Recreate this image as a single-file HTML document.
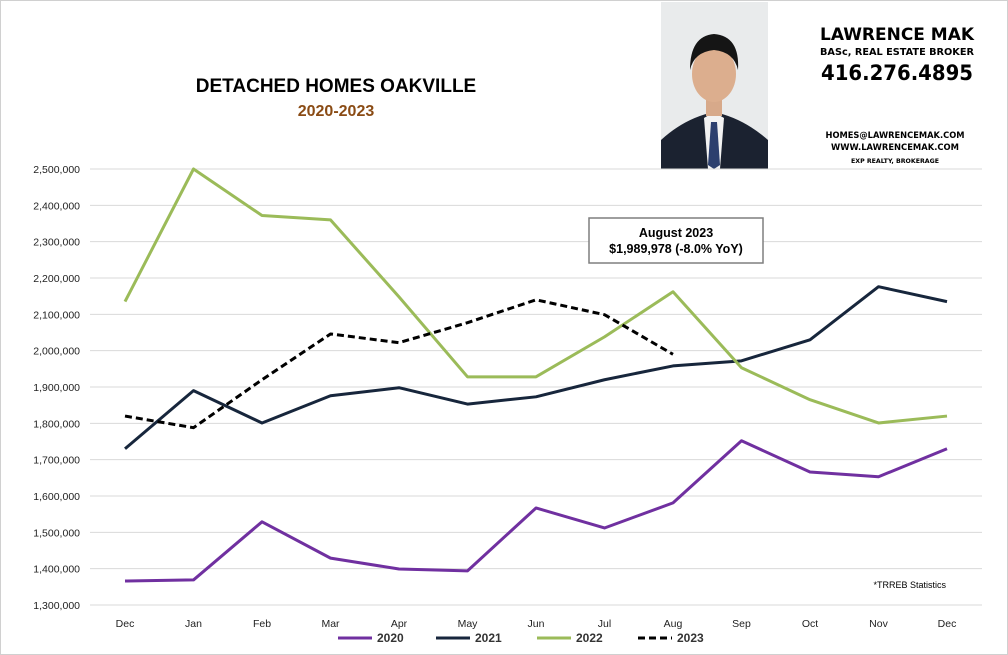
<!DOCTYPE html>
<html><head><meta charset="utf-8"><style>
body{margin:0;background:#fff;}
svg{display:block;font-family:"Liberation Sans",sans-serif;}
</style></head><body>
<svg width="1008" height="655" viewBox="0 0 1008 655">
<rect x="0.5" y="0.5" width="1007" height="654" fill="#fff" stroke="#d0d0d0"/>
<text x="336" y="92" text-anchor="middle" font-size="19" font-weight="bold" fill="#000">DETACHED HOMES OAKVILLE</text>
<text x="336" y="116" text-anchor="middle" font-size="16" font-weight="bold" fill="#8a4b14">2020-2023</text>
<g>
<rect x="661" y="2" width="107" height="167" fill="#e9ebec"/>
<path d="M661 169 L661 140 Q685 118 714 112 Q743 118 768 140 L768 169 Z" fill="#1b2230"/>
<path d="M704 118 L714 112 L724 118 L720 169 L708 169 Z" fill="#f2f2f2"/>
<path d="M711 122 L717 122 L720 165 L714 169 L708 165 Z" fill="#2c3f6e"/>
<rect x="706" y="92" width="16" height="24" fill="#d7a98a"/>
<ellipse cx="714" cy="74" rx="22" ry="28" fill="#dcae8e"/>
<path d="M690 70 Q690 36 714 34 Q740 36 738 70 Q734 52 714 50 Q694 52 690 70 Z" fill="#151515"/>
</g>
<g fill="#000" font-weight="bold" text-anchor="middle" font-family="'DejaVu Sans',sans-serif">
<text x="897" y="40" font-size="17" textLength="154" lengthAdjust="spacingAndGlyphs">LAWRENCE MAK</text>
<text x="897" y="55" font-size="10" textLength="154" lengthAdjust="spacingAndGlyphs">BASc, REAL ESTATE BROKER</text>
<text x="897" y="80" font-size="21" textLength="152" lengthAdjust="spacingAndGlyphs">416.276.4895</text>
<text x="895" y="138" font-size="8.5" textLength="139" lengthAdjust="spacingAndGlyphs">HOMES@LAWRENCEMAK.COM</text>
<text x="895" y="150" font-size="8.5" textLength="128" lengthAdjust="spacingAndGlyphs">WWW.LAWRENCEMAK.COM</text>
<text x="895" y="163" font-size="6.5" textLength="88" lengthAdjust="spacingAndGlyphs">EXP REALTY, BROKERAGE</text>
</g>
<g id="grid"></g><g id="yaxis"></g><g id="xaxis"></g><g id="series"></g>
<g>
<rect x="589" y="218" width="174" height="45" fill="#fff" stroke="#7f7f7f" stroke-width="1.5"/>
<text x="676" y="237" text-anchor="middle" font-size="12.5" font-weight="bold">August  2023</text>
<text x="676" y="253" text-anchor="middle" font-size="12.5" font-weight="bold">$1,989,978  (-8.0%  YoY)</text>
</g>
<text x="946" y="588" text-anchor="end" font-size="9">*TRREB Statistics</text>
<g id="legend"></g>
</svg>
<script>
const months=["Dec","Jan","Feb","Mar","Apr","May","Jun","Jul","Aug","Sep","Oct","Nov","Dec"];
const yTicks=[1300000,1400000,1500000,1600000,1700000,1800000,1900000,2000000,2100000,2200000,2300000,2400000,2500000];
const s2020=[1366000,1369000,1529000,1429000,1399000,1394000,1567000,1512000,1581000,1752000,1666000,1653000,1730000];
const s2021=[1730000,1890000,1801000,1876000,1898000,1853000,1873000,1920000,1958000,1972000,2030000,2176000,2135000];
const s2022=[2135000,2500000,2372000,2360000,2148000,1928000,1928000,2038000,2162000,1953000,1865000,1801000,1820000];
const s2023=[1820000,1788000,1920000,2046000,2022000,2077000,2140000,2099000,1990000];
const seriesNames=["2020","2021","2022","2023"];
const NS="http://www.w3.org/2000/svg";
const x=i=>125+i*68.5;
const y=v=>605-(v-1300000)*(436/1200000);
function mk(t,a,p){const e=document.createElementNS(NS,t);for(const k in a)e.setAttribute(k,a[k]);p.appendChild(e);return e;}
const G=document.getElementById('grid'),YA=document.getElementById('yaxis'),XA=document.getElementById('xaxis'),S=document.getElementById('series'),L=document.getElementById('legend');
yTicks.forEach(v=>{
 const l=mk('line',{x1:90,x2:982,y1:y(v),y2:y(v),stroke:'#d9d9d9','stroke-width':1},G);
 
 
 const t=mk('text',{x:80,y:y(v)+4,'text-anchor':'end','font-size':10.5,fill:'#222'},YA);
 t.textContent=v.toLocaleString('en-US');
 
 
});
months.forEach((m,i)=>{
 const t=mk('text',{x:x(i),y:627,'text-anchor':'middle','font-size':10.5,fill:'#222'},XA);
 t.textContent=m;
 
 
});
const cols=["#7030a0","#17263c","#9bbb59","#000"];
[s2020,s2021,s2022,s2023].forEach((d,k)=>{
 const p=mk('polyline',{points:d.map((v,i)=>x(i)+','+y(v)).join(' '),fill:'none',stroke:cols[k],'stroke-width':3,'stroke-linejoin':'round'},S);
 if(k==3)p.setAttribute('stroke-dasharray','7 4');
 
 
});
const lx=[338,436,537,638];
seriesNames.forEach((n,k)=>{
 const g=mk('g',{},L);
 
 
 const l=mk('line',{x1:lx[k],x2:lx[k]+34,y1:638,y2:638,stroke:cols[k],'stroke-width':3},g);
 if(k==3)l.setAttribute('stroke-dasharray','7 4');
 const t=mk('text',{x:lx[k]+39,y:642,'font-size':12,'font-weight':'bold',fill:'#333'},g);
 t.textContent=n;
});
</script>
</body></html>
